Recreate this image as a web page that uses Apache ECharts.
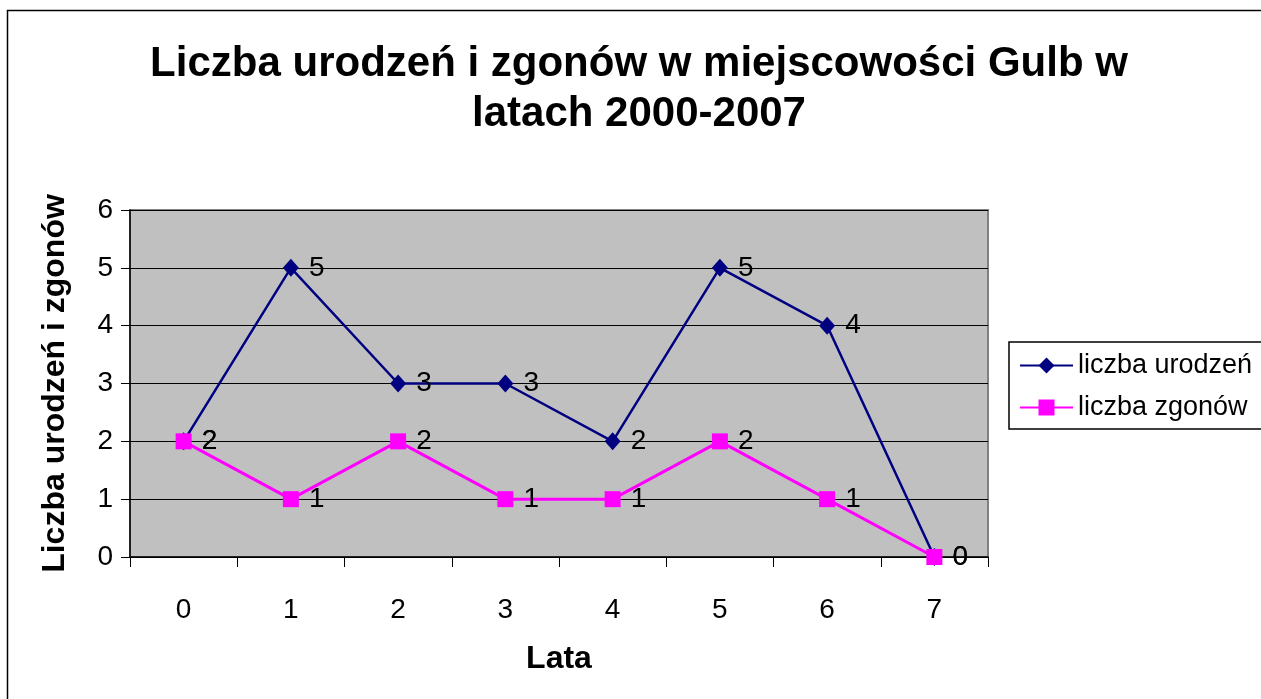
<!DOCTYPE html>
<html>
<head>
<meta charset="utf-8">
<script src="https://cdn.jsdelivr.net/npm/echarts@6/dist/echarts.min.js"></script>
<style>
  html, body { margin: 0; padding: 0; background: #fff; }
  #chart { width: 1261px; height: 699px; }
</style>
</head>
<body>
<div id="chart"></div>
<script>
// dane wykresu
var lata = ['0', '1', '2', '3', '4', '5', '6', '7'];
var urodzenia = [2, 5, 3, 3, 2, 5, 4, 0];
var zgony = [2, 1, 2, 1, 1, 2, 1, 0];
var yTicks = { min: 0, max: 6, interval: 1 };

var font = '"Liberation Sans", Arial, sans-serif';

var lineChart = function(targetElem) {
  var myChart = echarts.init(targetElem);

  var option = {
    backgroundColor: '#fff',
    textStyle: { fontFamily: font },
    title: {
      text: 'Liczba urodzeń i zgonów w miejscowości Gulb w\nlatach 2000-2007',
      left: 634,
      top: 34,
      textAlign: 'center',
      textStyle: {
        fontFamily: font,
        fontSize: 42,
        fontWeight: 'bold',
        lineHeight: 50,
        color: '#000'
      }
    },
    legend: {
      orient: 'vertical',
      left: 1009,
      top: 342,
      padding: [10, 40, 8, 10],
      itemGap: 15,
      itemWidth: 53,
      itemHeight: 20,
      borderColor: '#000',
      borderWidth: 1.5,
      backgroundColor: '#fff',
      textStyle: { fontFamily: font, fontSize: 27, color: '#000', lineHeight: 27 },
      data: ['liczba urodzeń', 'liczba zgonów']
    },
    graphic: [{
      type: 'rect',
      shape: { x: 7.5, y: 10.5, width: 1400, height: 900 },
      style: { fill: 'none', stroke: '#000', lineWidth: 1.5 },
      z: 100
    }],
    grid: {
      left: 130,
      top: 210,
      width: 858,
      height: 347,
      show: true,
      backgroundColor: '#C0C0C0',
      borderColor: '#808080',
      borderWidth: 2
    },
    xAxis: {
      type: 'category',
      data: lata,
      boundaryGap: true,
      name: 'Lata',
      nameLocation: 'middle',
      nameGap: 86,
      nameTextStyle: { fontFamily: font, fontSize: 32, fontWeight: 'bold', color: '#000' },
      axisLine: { lineStyle: { color: '#000', width: 1.5 } },
      axisTick: { show: true, length: 10, interval: 0, lineStyle: { color: '#000' } },
      axisLabel: { fontFamily: font, fontSize: 28, color: '#000', margin: 39 },
      splitLine: { show: false }
    },
    yAxis: {
      type: 'value',
      min: yTicks.min,
      max: yTicks.max,
      interval: yTicks.interval,
      name: 'Liczba urodzeń i zgonów',
      nameLocation: 'middle',
      nameGap: 59,
      nameTextStyle: { fontFamily: font, fontSize: 32, fontWeight: 'bold', color: '#000' },
      axisLine: { show: true, lineStyle: { color: '#000', width: 1.5 } },
      axisTick: { show: true, length: 9, lineStyle: { color: '#000' } },
      axisLabel: { fontFamily: font, fontSize: 28, color: '#000', margin: 17 },
      splitLine: { lineStyle: { color: '#000', width: 1 } }
    },
    series: [
      {
        name: 'liczba urodzeń',
        type: 'line',
        data: urodzenia,
        symbol: 'diamond',
        symbolSize: [16, 18],
        color: '#000080',
        lineStyle: { color: '#000080', width: 2.5 },
        itemStyle: { color: '#000080' },
        label: { show: true, position: 'right', distance: 10, fontFamily: font, fontSize: 28, color: '#000' },
        z: 3
      },
      {
        name: 'liczba zgonów',
        type: 'line',
        data: zgony,
        symbol: 'rect',
        symbolSize: 16,
        color: '#FF00FF',
        lineStyle: { color: '#FF00FF', width: 3 },
        itemStyle: { color: '#FF00FF' },
        label: { show: true, position: 'right', distance: 10, fontFamily: font, fontSize: 28, color: '#000' },
        z: 4
      }
    ],
    animation: false
  };

  myChart.setOption(option);
};

lineChart(document.getElementById('chart'));
</script>
</body>
</html>
